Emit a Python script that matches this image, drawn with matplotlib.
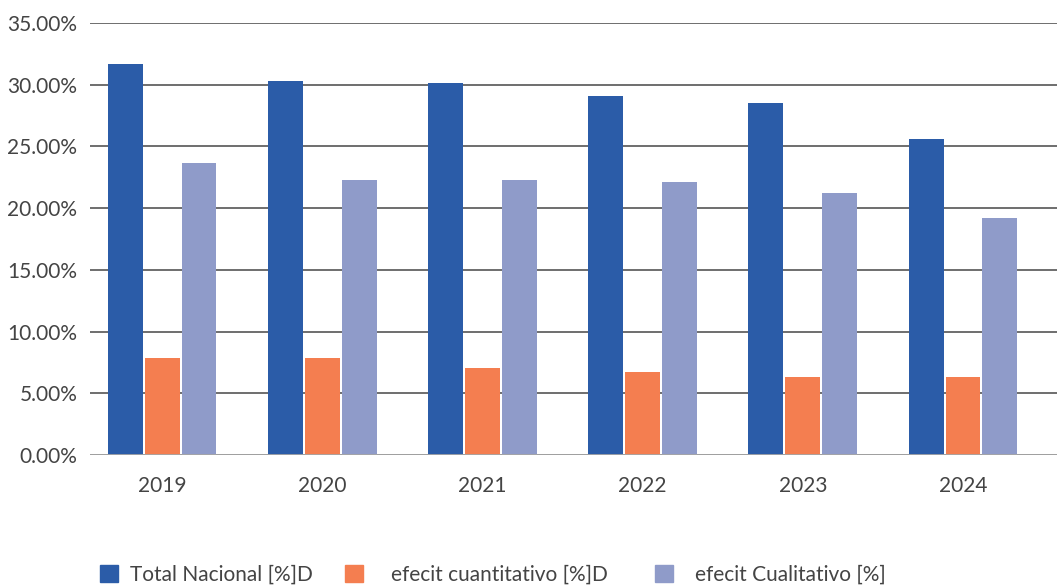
import numpy as np
import matplotlib
matplotlib.use("Agg")
import matplotlib.pyplot as plt
from matplotlib.patches import Patch
from matplotlib.ticker import FuncFormatter

# yearly shares (%)
years = ["2019", "2020", "2021", "2022", "2023", "2024"]
total_nacional = [31.7, 30.3, 30.15, 29.1, 28.5, 25.6]
deficit_cuantitativo = [7.85, 7.85, 7.05, 6.75, 6.3, 6.3]
deficit_cualitativo = [23.65, 22.3, 22.3, 22.1, 21.2, 19.2]

labels = ["Total Nacional [%]D", "efecit cuantitativo [%]D", "efecit Cualitativo [%]"]
colors = ["#2b5ca8", "#f47e50", "#8f9bc9"]

plt.rcParams["font.family"] = ["Lato", "DejaVu Sans"]
txt = "#444444"

fig = plt.figure(figsize=(10.57, 5.87), dpi=100)
ax = fig.add_axes([90 / 1057, 1 - 455 / 587, 967 / 1057, 432 / 587])

x = np.arange(len(years))
w = 0.218
gap = 0.0125
series = [total_nacional, deficit_cuantitativo, deficit_cualitativo]
for i, (vals, c) in enumerate(zip(series, colors)):
    ax.bar(x + (i - 1) * (w + gap), vals, width=w, color=c, zorder=3)

ax.set_xlim(-0.45, 5.587)
ax.set_ylim(0, 35)
ax.set_yticks(np.arange(0, 36, 5))
ax.yaxis.set_major_formatter(FuncFormatter(lambda v, p: f"{v:.2f}%"))
ax.set_xticks(x)
ax.set_xticklabels(years)
ax.grid(axis="y", color="#6e6e6e", lw=1.4, zorder=0)
ax.tick_params(axis="both", length=0, labelsize=15, colors=txt)
ax.tick_params(axis="x", pad=15)
ax.tick_params(axis="y", pad=9)
for s in ax.spines.values():
    s.set_visible(False)
ax.axhline(0, color="#a6a6a6", lw=2, zorder=4)

# one legend per entry so each sits at its own spot along the bottom
handle_x = [100, 345, 655]
text_pads = [0.6, 1.35, 1.05]
for lab, c, hx, pad in zip(labels, colors, handle_x, text_pads):
    fig.legend(handles=[Patch(color=c, label=lab)], loc="center left",
               bbox_to_anchor=(hx / 1057, 12 / 587), frameon=False,
               fontsize=15, handlelength=0.85, handleheight=0.85,
               handletextpad=pad, borderpad=0, borderaxespad=0,
               labelcolor=txt)

fig.savefig("out.png", dpi=100)
